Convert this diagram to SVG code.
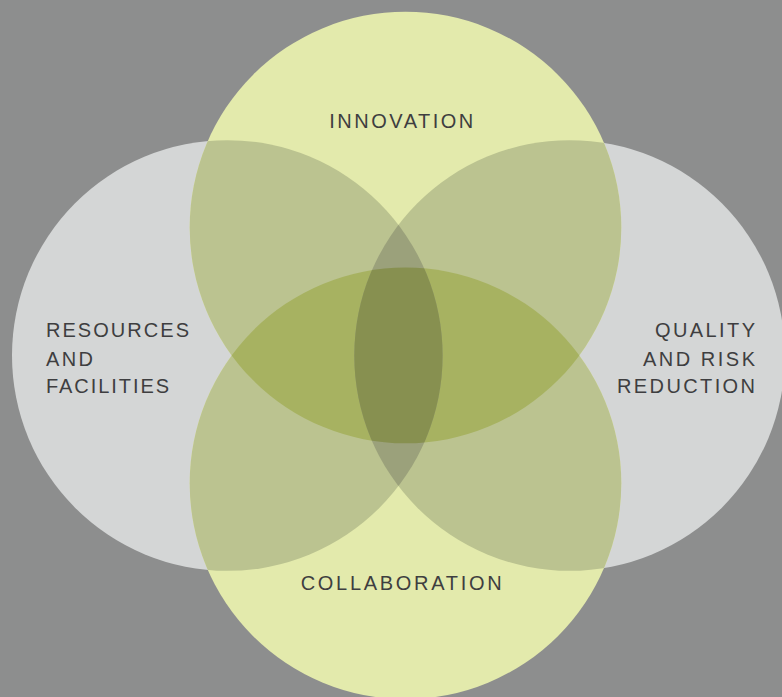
<svg xmlns="http://www.w3.org/2000/svg" width="782" height="697" viewBox="0 0 782 697">
  <style>
    .grey { fill: #d4d6d6; }
    .lime { fill: #e3eaac; }
    .lime-grey { fill: #bbc390; }
    .lime-lime { fill: #a7b261; }
    .grey-grey { fill: #9ba17b; }
    .core { fill: #879050; }
    .label { font-family: "Liberation Sans", Arial, sans-serif; font-size: 20px; fill: #3e3e40; }
  </style>
  <defs>
    <clipPath id="clip-resources"><circle cx="227.3" cy="355.5" r="215.3"/></clipPath>
    <clipPath id="clip-quality"><circle cx="569.6" cy="355.5" r="215.3"/></clipPath>
    <clipPath id="clip-innovation"><circle cx="405.5" cy="227.5" r="215.8"/></clipPath>
    <clipPath id="clip-collaboration"><circle cx="405.5" cy="483.3" r="215.8"/></clipPath>
  </defs>

  <rect width="782" height="697" fill="#8d8e8e"/>

  <g id="resources">
    <circle class="grey" cx="227.3" cy="355.5" r="215.3"/>
    <text class="label" x="46" y="337.3" textLength="143" lengthAdjust="spacing">RESOURCES</text>
    <text class="label" x="46" y="365.7" textLength="47" lengthAdjust="spacing">AND</text>
    <text class="label" x="46" y="393.3" textLength="123" lengthAdjust="spacing">FACILITIES</text>
  </g>

  <g id="quality">
    <circle class="grey" cx="569.6" cy="355.5" r="215.3"/>
    <text class="label" x="655" y="337.3" textLength="100" lengthAdjust="spacing">QUALITY</text>
    <text class="label" x="643" y="365.7" textLength="112" lengthAdjust="spacing">AND RISK</text>
    <text class="label" x="617" y="393.3" textLength="138" lengthAdjust="spacing">REDUCTION</text>
  </g>

  <g id="innovation">
    <circle class="lime" cx="405.5" cy="227.5" r="215.8"/>
    <text class="label" x="329.3" y="127.5" textLength="144" lengthAdjust="spacing">INNOVATION</text>
  </g>

  <g id="collaboration">
    <circle class="lime" cx="405.5" cy="483.3" r="215.8"/>
    <text class="label" x="300.7" y="590" textLength="201" lengthAdjust="spacing">COLLABORATION</text>
  </g>

  <!-- overlap shading, darker as more circles meet -->
  <g id="overlaps">
    <circle class="lime-grey" cx="405.5" cy="227.5" r="215.8" clip-path="url(#clip-resources)"/>
    <circle class="lime-grey" cx="405.5" cy="227.5" r="215.8" clip-path="url(#clip-quality)"/>
    <circle class="lime-grey" cx="405.5" cy="483.3" r="215.8" clip-path="url(#clip-resources)"/>
    <circle class="lime-grey" cx="405.5" cy="483.3" r="215.8" clip-path="url(#clip-quality)"/>
    <circle class="lime-lime" cx="405.5" cy="483.3" r="215.8" clip-path="url(#clip-innovation)"/>
    <circle class="grey-grey" cx="569.6" cy="355.5" r="215.3" clip-path="url(#clip-resources)"/>
    <g clip-path="url(#clip-innovation)">
      <g clip-path="url(#clip-collaboration)">
        <circle class="core" cx="569.6" cy="355.5" r="215.3" clip-path="url(#clip-resources)"/>
      </g>
    </g>
  </g>
</svg>
